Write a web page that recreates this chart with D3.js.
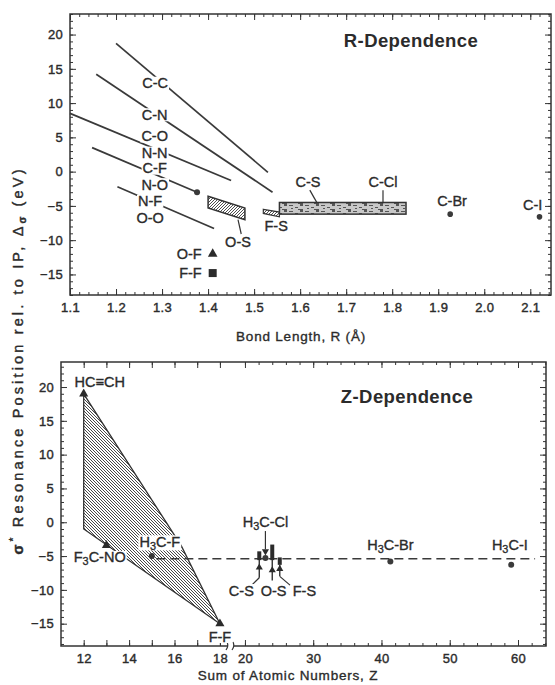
<!DOCTYPE html>
<html>
<head>
<meta charset="utf-8">
<script src="https://cdn.jsdelivr.net/npm/d3@7"></script>
<style>
  body { margin: 0; background: #fff; }
  text { font-family: "Liberation Sans", Arial, Helvetica, sans-serif; fill: #2b2b2b; }
</style>
</head>
<body>
<div id="chart"></div>
<script>
// ---------- R-dependence (top panel) ----------
const rTickLabels = [1.1, 1.2, 1.3, 1.4, 1.5, 1.6, 1.7, 1.8, 1.9, 2.0, 2.1];
const vTickLabels = [-15, -10, -5, 0, 5, 10, 15, 20];

// bond lines: [R start, value start, R end, value end]
const rLines = [
  [1.200, 18.7, 1.530, -0.1],
  [1.157, 14.2, 1.540, -3.0],
  [1.100, 8.5, 1.450, -1.3],
  [1.148, 3.5, 1.376, -3.0],
  [1.203, -2.2, 1.413, -8.3]
];
const rLineLabels = ['C-C', 'C-N', 'C-O', 'N-N', 'C-F', 'N-O', 'N-F', 'O-O'];
const rLineLabelR = [1.285, 1.284, 1.284, 1.284, 1.284, 1.284, 1.274, 1.274];
const rLineLabelV = [12.9, 8.3, 5.2, 2.7, 0.5, -1.9, -4.3, -6.8];

const noDot = [1.376, -3.0];                       // N-O end point
const osBand = [[1.40, -3.6], [1.48, -5.3], [1.48, -7.0], [1.40, -5.3]];
const fsBand = [[1.52, -5.5], [1.555, -5.9], [1.555, -6.6], [1.52, -6.1]];
const csBox = [1.555, 1.83, -4.5, -6.2];            // R from, R to, v top, v bottom
const rPoints = [
  { name: 'C-Br', r: 1.926, v: -6.2 },
  { name: 'C-I', r: 2.12, v: -6.6 }
];
const ofPoint = [1.41, -12.0];
const ffPoint = [1.41, -14.8];

// ---------- Z-dependence (bottom panel) ----------
const zLeftLabels = [12, 14, 16, 18];
const zRightLabels = [20, 30, 40, 50, 60];
const zShade = [[12, 19], [16.3, -3.5], [18, -15], [12, -1]];
const zMarkers = [
  { name: 'HC≡CH', z: 12, v: 19.0, shape: 'tri' },
  { name: 'F_3C-NO', z: 13, v: -3.4, shape: 'tri' },
  { name: 'H_3C-F', z: 15, v: -5.0, shape: 'dot' },
  { name: 'F-F', z: 18, v: -15.0, shape: 'tri' },
  { name: 'H_3C-Cl', z: 23, v: -5.3, shape: 'dot' },
  { name: 'H_3C-Br', z: 41.3, v: -5.8, shape: 'dot' },
  { name: 'H_3C-I', z: 59, v: -6.3, shape: 'dot' }
];
const dashLevel = -5.4;
const dashFrom = 15.2, dashTo = 62.5;
// sulfur bonds: Z, top of bar, end of thick part, bottom, arrow
const sBars = [
  { name: 'C-S', z: 22.1, top: -4.3, mid: -5.6, bot: -8.2, arrow: -6.7 },
  { name: 'O-S', z: 24.0, top: -3.3, mid: -5.6, bot: -8.6, arrow: -7.1 },
  { name: 'F-S', z: 25.1, top: -5.2, mid: -6.3, bot: -8.0, arrow: -6.9 }
];

const W = 555, H = 685;
const svg = d3.select('#chart').append('svg').attr('width', W).attr('height', H);
const ink = '#333';
const fs = 14.5;

const defs = svg.append('defs');
defs.append('pattern').attr('id', 'hatch')
  .attr('patternUnits', 'userSpaceOnUse').attr('width', 3).attr('height', 3)
  .append('path').attr('d', 'M-1,1 l2,-2 M0,3 l3,-3 M2,4 l2,-2')
  .attr('stroke', '#3a3a3a').attr('stroke-width', 0.9);
defs.append('pattern').attr('id', 'hatch2')
  .attr('patternUnits', 'userSpaceOnUse').attr('width', 3).attr('height', 3)
  .append('path').attr('d', 'M-1,2 l2,2 M0,0 l3,3 M2,-1 l2,2')
  .attr('stroke', '#333').attr('stroke-width', 0.9);
const st = defs.append('pattern').attr('id', 'stipple')
  .attr('patternUnits', 'userSpaceOnUse').attr('width', 16).attr('height', 6);
st.append('rect').attr('width', 16).attr('height', 6).attr('fill', '#c8c8c8');
[[1, 1, 4, 1], [7, 3, 3, 1], [12, 0, 3, 2], [3, 4, 2, 1], [10, 5, 5, 1]].forEach(b =>
  st.append('rect').attr('x', b[0]).attr('y', b[1]).attr('width', b[2]).attr('height', b[3]).attr('fill', '#555'));

// "_3" in a name means a subscript 3
function addText(g, str, x, y, opts = {}) {
  const size = opts.size || fs;
  const t = g.append('text').attr('x', x).attr('y', y)
    .attr('font-size', size)
    .attr('text-anchor', opts.anchor || 'middle')
    .attr('dominant-baseline', 'central')
    .attr('stroke', '#2b2b2b').attr('stroke-width', 0.35);
  let back = 0;
  str.split(/(_\d)/).forEach(part => {
    if (!part) return;
    if (part.startsWith('_')) {
      t.append('tspan').attr('font-size', size * 0.75).attr('dy', 4).text(part.slice(1));
      back = -4;
    } else {
      t.append('tspan').attr('dy', back || null).text(part);
      back = 0;
    }
  });
  return t;
}
// label with a white box behind it, which cuts the line that runs under it
function label(gBg, gText, str, x, y, opts = {}) {
  const t = addText(gText, str, x, y, opts);
  const bb = t.node().getBBox();
  gBg.append('rect').attr('x', bb.x - 1).attr('y', bb.y + 1.5)
    .attr('width', bb.width + 2).attr('height', bb.height - 3).attr('fill', '#fff');
  return t;
}

function styleAxis(g) {
  g.select('.domain').remove();
  g.attr('font-family', null);
  g.selectAll('line').attr('stroke', ink).attr('stroke-width', 1);
  g.selectAll('text').attr('font-size', 13).attr('letter-spacing', 0.3)
    .style('fill', '#2b2b2b').attr('stroke', '#2b2b2b').attr('stroke-width', 0.4);
}

function frameAxes(g, x, y, major, minor, labels, fmt) {
  const [y1, y0] = y.range();
  g.append('g').attr('transform', `translate(0,${y1})`)
    .call(d3.axisBottom(x).tickValues(minor).tickSize(-3).tickFormat('')).call(styleAxis);
  g.append('g').attr('transform', `translate(0,${y1})`)
    .call(d3.axisBottom(x).tickValues(major).tickSize(-6).tickPadding(8)
      .tickFormat(d => labels.includes(d) ? fmt(d) : '')).call(styleAxis);
  g.append('g').attr('transform', `translate(0,${y0})`)
    .call(d3.axisTop(x).tickValues(minor).tickSize(-3).tickFormat('')).call(styleAxis);
  g.append('g').attr('transform', `translate(0,${y0})`)
    .call(d3.axisTop(x).tickValues(major).tickSize(-6).tickFormat('')).call(styleAxis);
}
const vMinor = d3.range(-18, 24);
function yAxes(g, x0, x1, y) {
  g.append('g').attr('transform', `translate(${x0},0)`)
    .call(d3.axisLeft(y).tickValues(vMinor).tickSize(-3).tickFormat('')).call(styleAxis);
  g.append('g').attr('transform', `translate(${x0},0)`)
    .call(d3.axisLeft(y).tickValues(vTickLabels).tickSize(-6).tickPadding(7)).call(styleAxis);
  g.append('g').attr('transform', `translate(${x1},0)`)
    .call(d3.axisRight(y).tickValues(vMinor).tickSize(-3).tickFormat('')).call(styleAxis);
  g.append('g').attr('transform', `translate(${x1},0)`)
    .call(d3.axisRight(y).tickValues(vTickLabels).tickSize(-6).tickFormat('')).call(styleAxis);
}

// ===== top panel =====
const xR = d3.scaleLinear().domain([1.1, 2.145]).range([70, 551]);
const yR = d3.scaleLinear().domain([-18, 23]).range([295, 14]);
const rMinor = d3.range(55, 108).map(i => i / 50);

const topG = svg.append('g');
frameAxes(topG, xR, yR, rTickLabels, rMinor, rTickLabels, d3.format('.1f'));
yAxes(topG, 70, 551, yR);
topG.append('rect').attr('x', 70).attr('y', 14).attr('width', 481).attr('height', 281)
  .attr('fill', 'none').attr('stroke', ink).attr('stroke-width', 1.5);

const topMarks = topG.append('g');
topMarks.selectAll('line.bond').data(rLines).join('line').attr('class', 'bond')
  .attr('x1', d => xR(d[0])).attr('y1', d => yR(d[1]))
  .attr('x2', d => xR(d[2])).attr('y2', d => yR(d[3]))
  .attr('stroke', '#3a3a3a').attr('stroke-width', 1.7);
topMarks.append('circle').attr('cx', xR(noDot[0])).attr('cy', yR(noDot[1])).attr('r', 3).attr('fill', '#3a3a3a');

const poly = pts => 'M' + pts.map(p => [xR(p[0]), yR(p[1])].join(',')).join('L') + 'Z';
topMarks.append('path').attr('d', poly(osBand)).attr('fill', 'url(#hatch)').attr('stroke', ink).attr('stroke-width', 1.5);
topMarks.append('path').attr('d', poly(fsBand)).attr('fill', 'url(#hatch)').attr('stroke', ink).attr('stroke-width', 1.2);
topMarks.append('rect')
  .attr('x', xR(csBox[0])).attr('y', yR(csBox[2]))
  .attr('width', xR(csBox[1]) - xR(csBox[0])).attr('height', yR(csBox[3]) - yR(csBox[2]))
  .attr('fill', 'url(#stipple)').attr('stroke', ink).attr('stroke-width', 1.5);

// leaders
const leaders = [
  [[1.465, -7.0], [1.472, -9.1]],
  [[1.621, -2.7], [1.637, -4.6]],
  [[1.78, -2.7], [1.78, -4.6]]
];
topMarks.selectAll('line.lead').data(leaders).join('line').attr('class', 'lead')
  .attr('x1', d => xR(d[0][0])).attr('y1', d => yR(d[0][1]))
  .attr('x2', d => xR(d[1][0])).attr('y2', d => yR(d[1][1]))
  .attr('stroke', ink).attr('stroke-width', 1.2);

topMarks.selectAll('circle.pt').data(rPoints).join('circle').attr('class', 'pt')
  .attr('cx', d => xR(d.r)).attr('cy', d => yR(d.v)).attr('r', 2.8).attr('fill', '#3a3a3a');
topMarks.append('path').attr('d', d3.symbol(d3.symbolTriangle, 40)())
  .attr('transform', `translate(${xR(ofPoint[0])},${yR(ofPoint[1])})`).attr('fill', '#2b2b2b');
topMarks.append('rect').attr('x', xR(ffPoint[0]) - 4).attr('y', yR(ffPoint[1]) - 4)
  .attr('width', 8).attr('height', 8).attr('fill', '#2b2b2b');

const topBg = topG.append('g'), topText = topG.append('g');
rLineLabels.forEach((s, i) => label(topBg, topText, s, xR(rLineLabelR[i]), yR(rLineLabelV[i])));
label(topBg, topText, 'O-S', xR(1.465), yR(-10.3));
label(topBg, topText, 'F-S', xR(1.548), yR(-8.0));
label(topBg, topText, 'C-S', xR(1.617), yR(-1.5));
label(topBg, topText, 'C-Cl', xR(1.78), yR(-1.5));
label(topBg, topText, 'C-Br', xR(1.93), yR(-4.3));
label(topBg, topText, 'C-I', xR(2.105), yR(-4.8));
addText(topText, 'O-F', xR(ofPoint[0]) - 11, yR(ofPoint[1]), { anchor: 'end' });
addText(topText, 'F-F', xR(ffPoint[0]) - 11, yR(ffPoint[1]), { anchor: 'end' });
topG.append('text').attr('x', 411).attr('y', 40).attr('text-anchor', 'middle').attr('dominant-baseline', 'central')
  .attr('font-size', 18.5).attr('font-weight', 'bold').attr('letter-spacing', 0.4).text('R-Dependence');
topG.append('text').attr('x', 301).attr('y', 336).attr('text-anchor', 'middle').attr('dominant-baseline', 'central')
  .attr('font-size', 13.5).attr('letter-spacing', 0.8).attr('stroke', '#2b2b2b').attr('stroke-width', 0.35)
  .text('Bond Length, R  (Å)');

// ===== bottom panel =====
const yZ = d3.scaleLinear().domain([-18.3, 23.7]).range([646, 362]);
const zL = d3.scaleLinear().domain([11, 18.4]).range([61, 229]);
const zR = d3.scaleLinear().domain([18.25, 64.1]).range([233, 546]);
const zx = z => z <= 18.4 ? zL(z) : zR(z);

const botG = svg.append('g');
const zLMinor = d3.range(12, 19);
const zRMinor = d3.range(20, 65, 2);
frameAxes(botG, zL, yZ, zLMinor, zLMinor, zLeftLabels, d3.format('d'));
frameAxes(botG, zR, yZ, zRightLabels, zRMinor, zRightLabels, d3.format('d'));
yAxes(botG, 61, 546, yZ);
botG.append('rect').attr('x', 61).attr('y', 362).attr('width', 485).attr('height', 284)
  .attr('fill', 'none').attr('stroke', ink).attr('stroke-width', 1.5);
// axis break
botG.append('rect').attr('x', 228).attr('y', 642).attr('width', 6).attr('height', 8).attr('fill', '#fff');
[227.5, 233.5].forEach(x => botG.append('path').attr('d', `M${x - 1.5},650 Q${x + 1.5},646 ${x - 0.5},642`)
  .attr('fill', 'none').attr('stroke', ink).attr('stroke-width', 1.2));

const bm = botG.append('g');
bm.append('path').attr('d', 'M' + zShade.map(p => [zx(p[0]), yZ(p[1])].join(',')).join('L') + 'Z')
  .attr('fill', 'url(#hatch2)').attr('stroke', ink).attr('stroke-width', 1.3);
bm.append('line').attr('x1', zx(dashFrom)).attr('x2', zx(dashTo))
  .attr('y1', yZ(dashLevel)).attr('y2', yZ(dashLevel))
  .attr('stroke', '#3a3a3a').attr('stroke-width', 1.6).attr('stroke-dasharray', '9,5');

// sulfur bars
sBars.forEach(b => {
  const x = zx(b.z);
  bm.append('rect').attr('x', x - 2).attr('y', yZ(b.top)).attr('width', 4).attr('height', yZ(b.mid) - yZ(b.top)).attr('fill', '#2b2b2b');
  bm.append('line').attr('x1', x).attr('x2', x).attr('y1', yZ(b.mid)).attr('y2', yZ(b.bot)).attr('stroke', ink).attr('stroke-width', 1.4);
  bm.append('path').attr('d', d3.symbol(d3.symbolTriangle, 22)()).attr('transform', `translate(${x},${yZ(b.arrow)})`).attr('fill', '#2b2b2b');
});
const sLeaders = [
  [[22.1, -8.2], [21.0, -9.3]],
  [[25.1, -8.0], [26.6, -9.3]],
  [[23.0, -1.3], [23.0, -4.0]]
];
bm.selectAll('line.lead').data(sLeaders).join('line').attr('class', 'lead')
  .attr('x1', d => zx(d[0][0])).attr('y1', d => yZ(d[0][1]))
  .attr('x2', d => zx(d[1][0])).attr('y2', d => yZ(d[1][1]))
  .attr('stroke', ink).attr('stroke-width', 1.2);
bm.append('path').attr('d', d3.symbol(d3.symbolTriangle, 22)())
  .attr('transform', `translate(${zx(23)},${yZ(-4.3)}) rotate(180)`).attr('fill', '#2b2b2b');

zMarkers.forEach(m => {
  if (m.shape === 'tri') {
    bm.append('path').attr('d', d3.symbol(d3.symbolTriangle, 36)())
      .attr('transform', `translate(${zx(m.z)},${yZ(m.v)})`).attr('fill', '#2b2b2b');
  } else {
    bm.append('circle').attr('cx', zx(m.z)).attr('cy', yZ(m.v)).attr('r', 3).attr('fill', '#3a3a3a');
  }
});

const bBg = botG.append('g'), bText = botG.append('g');
label(bBg, bText, 'HC≡CH', zx(11.6), yZ(20.7), { anchor: 'start' });
label(bBg, bText, 'F_3C-NO', zx(13.85), yZ(-5.2), { anchor: 'end' });
label(bBg, bText, 'H_3C-F', zx(15.35), yZ(-2.9));
label(bBg, bText, 'F-F', zx(18), yZ(-16.9));
label(bBg, bText, 'H_3C-Cl', zx(23), yZ(0.1));
label(bBg, bText, 'H_3C-Br', zx(41.3), yZ(-3.4));
label(bBg, bText, 'H_3C-I', zx(58.8), yZ(-3.4));
label(bBg, bText, 'C-S', zx(21.3), yZ(-10.1), { anchor: 'end' });
label(bBg, bText, 'O-S', zx(24.2), yZ(-10.1));
label(bBg, bText, 'F-S', zx(27.0), yZ(-10.1), { anchor: 'start' });
botG.append('text').attr('x', 407).attr('y', 396).attr('text-anchor', 'middle').attr('dominant-baseline', 'central')
  .attr('font-size', 18.5).attr('font-weight', 'bold').attr('letter-spacing', 0.4).text('Z-Dependence');
botG.append('text').attr('x', 288).attr('y', 675).attr('text-anchor', 'middle').attr('dominant-baseline', 'central')
  .attr('font-size', 13.5).attr('letter-spacing', 0.8).attr('stroke', '#2b2b2b').attr('stroke-width', 0.35)
  .text('Sum of Atomic Numbers, Z');

// shared y title
const yt = svg.append('text').attr('transform', 'translate(18,362) rotate(-90)')
  .attr('text-anchor', 'middle').attr('dominant-baseline', 'central')
  .attr('font-size', 14.5).attr('textLength', 385).attr('lengthAdjust', 'spacing')
  .attr('stroke', '#2b2b2b').attr('stroke-width', 0.4);
yt.append('tspan').attr('font-weight', 'bold').text('σ');
yt.append('tspan').attr('dy', -5).attr('font-size', 10).text('*');
yt.append('tspan').attr('dy', 5).text(' Resonance Position rel. to IP, Δ');
yt.append('tspan').attr('dy', 4).attr('font-size', 10).attr('font-weight', 'bold').text('σ');
yt.append('tspan').attr('dy', -4).text(' (eV)');
</script>
</body>
</html>
